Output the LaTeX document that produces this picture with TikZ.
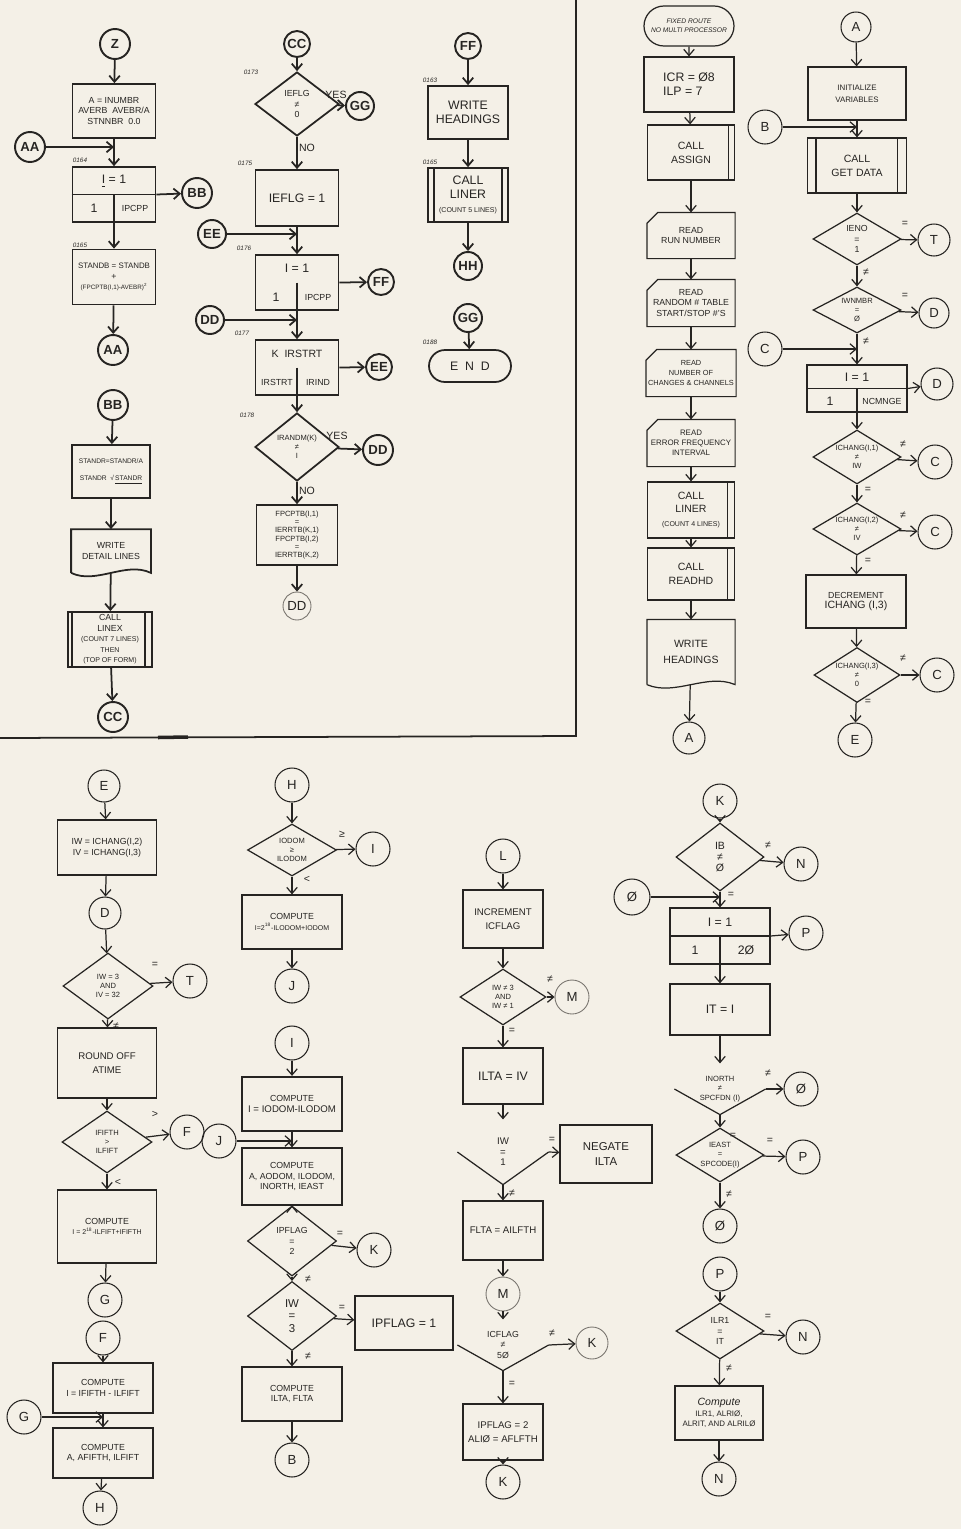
\documentclass[tikz,border=0pt]{standalone}
\usepackage{fontspec}
\setmainfont{Liberation Sans}
\usetikzlibrary{positioning,arrows.meta,shapes.geometric,shapes.misc}

\definecolor{paper}{RGB}{244,240,231}
\definecolor{ink}{RGB}{38,36,34}
\definecolor{faded}{RGB}{120,116,110}

\newcommand\fsA{\fontsize{5}{6}\selectfont}
\newcommand\fsB{\fontsize{4}{4.8}\selectfont}
\newcommand\fsC{\fontsize{7.5}{8}\selectfont}
\newcommand\fsD{\fontsize{5}{6}\selectfont}
\newcommand\fsS{\fontsize{4.3}{5.2}\selectfont}
\newcommand\fsE{\fontsize{7}{8}\selectfont}
\newcommand\fsL{\fontsize{6}{6}\selectfont}
\newcommand\fsN{\fontsize{3.6}{4}\selectfont\itshape}

\begin{document}
\begin{tikzpicture}[
    x=0.02cm, y=-0.02cm, line width=0.7pt,
    line/.style={draw=ink},
    arrow/.style={-{Straight Barb[length=3.5pt,width=6pt]}, draw=ink},
    block/.style 2 args={rectangle, draw=ink, text=ink, minimum width=#1*0.02cm, minimum height=#2*0.02cm, inner sep=0pt, align=center, font=\fsA},
    card/.style 2 args={block={#1}{#2}, draw=none},
    doc/.style 2 args={block={#1}{#2}, draw=none},
    terminal/.style 2 args={rounded rectangle, draw=ink, text=ink, minimum width=#1*0.02cm, minimum height=#2*0.02cm, inner sep=0pt, align=center, font=\fsA},
    decision/.style 2 args={diamond, draw=ink, text=ink, minimum width=#1*0.02cm, minimum height=#2*0.02cm, inner sep=-6pt, align=center, font=\fsD},
    open decision/.style 2 args={decision={#1}{#2}, draw=none},
    conn/.style={circle, draw=ink, line width=1.1pt, text=ink, minimum size=#1*0.04cm, inner sep=0pt, font=\fsC\bfseries},
    conn2/.style={circle, draw=ink, line width=0.6pt, text=ink, minimum size=#1*0.04cm, inner sep=0pt, font=\fsC},
    pconn/.style={circle, draw=faded, line width=0.5pt, text=ink, minimum size=#1*0.04cm, inner sep=0pt, font=\fsC},
    lbl/.style={font=\fsL, text=ink, inner sep=0pt},
    num/.style={font=\fsN, text=ink, inner sep=0pt},
    txt/.style={font=\fsA, text=ink, inner sep=0pt}
]
\fill[paper] (0,0) rectangle (961,1529);
\useasboundingbox (0,0) rectangle (961,1529);

% ---------------- upper left panel ----------------
\begin{scope}[line width=1pt]
\draw[line] (0,738) -- (576,736) -- (576,0);
\draw[line, line width=2pt] (158,737.5) -- (188,737);

% Z column
\node[conn=15] (Z) at (115,44) {Z};
\node[block={83}{54}] (zset) at (114,111) {A = INUMBR\\AVERB\ \ AVEBR/A\\STNNBR\ \ 0.0};
\node[conn=15] (AAin) at (30,147) {AA};
\coordinate (zjoin) at (114,147);
\node[num] (n164) at (80,160) {0164};
\node[block={83}{55}] (zloop) at (114,194.5) {};
\node[txt, font=\fsE] (zloopi) at (114,181) {\underline{I} = 1};
\node[txt, font=\fsE] (zloopa) at (94,208) {1};
\node[txt] (zloopb) at (135,208) {IPCPP};
\node[conn=15] (BBout) at (197,193) {BB};
\node[num] (n165) at (80,245) {0165};
\node[block={83}{55}] (zsum) at (114,277) {\fontsize{4.5}{6}\selectfont STANDB = STANDB\\+\\\fontsize{3.6}{5}\selectfont (FPCPTB(I,1)-AVEBR)\textsuperscript{2}};
\node[conn=15] (AAout) at (113,350) {AA};

% BB column
\node[conn=15] (BBin) at (113,405) {BB};
\node[block={78}{53}, font=\fontsize{3.8}{5}\selectfont] (bbstd) at (111,471.5) {STANDR=STANDR/A\\[5pt]STANDR\ \ √\,\underline{STANDR}};
\node[doc={78}{42}] (bbdoc) at (111,551) {WRITE\\DETAIL LINES};
\node[block={84}{55}] (bbcall) at (110,639.5) {CALL\\LINEX\\{\fsB (COUNT 7 LINES)}\\{\fsB THEN}\\{\fsB (TOP OF FORM)}};
\node[conn=15] (CCout) at (113,717) {CC};

% CC column
\node[conn=13] (CCin) at (297,44) {CC};
\node[num] (n173) at (251,72) {0173};
\node[decision={84}{64}] (cflg) at (297,104) {IEFLG\\≠\\0};
\node[lbl] (cyes1) at (336,95) {YES};
\node[conn=14] (GGout) at (360,106) {GG};
\node[lbl] (cno1) at (307,148) {NO};
\node[num] (n175) at (245,163) {0175};
\node[block={83}{56}, font=\fsE] (cset) at (297,198) {IEFLG = 1};
\node[conn=14] (EEin) at (212,234) {EE};
\coordinate (cjoin1) at (297,234);
\node[num] (n176) at (244,248) {0176};
\node[block={83}{55}] (cloop) at (297,282.5) {};
\node[txt, font=\fsE] (cloopi) at (297,268) {I = 1};
\node[txt, font=\fsE] (cloopa) at (276,297) {1};
\node[txt] (cloopb) at (318,297) {IPCPP};
\node[conn=13] (FFout) at (381,282) {FF};
\node[conn=14] (DDin) at (210,320) {DD};
\coordinate (cjoin2) at (297,320);
\node[num] (n177) at (242,333) {0177};
\node[block={83}{55}] (cirst) at (297,367.5) {};
\node[txt, font=\fontsize{6}{7}\selectfont] (cirsti) at (297,354) {K\ \ IRSTRT};
\node[txt] (cirsta) at (277,382) {IRSTRT};
\node[txt] (cirstb) at (318,382) {IRIND};
\node[conn=13] (EEout) at (379,367) {EE};
\node[num] (n178) at (247,415) {0178};
\node[decision={84}{68}, font=\fsS] (crnd) at (297,447) {IRANDM(K)\\≠\\I};
\node[lbl] (cyes2) at (337,436) {YES};
\node[conn=15] (DDout) at (378,450) {DD};
\node[lbl] (cno2) at (307,491) {NO};
\node[block={81}{60}, font=\fontsize{4.3}{4.6}\selectfont] (cfpc) at (297,535) {FPCPTB(I,1)\\=\\IERRTB(K,1)\\FPCPTB(I,2)\\=\\IERRTB(K,2)};
\node[pconn=14] (DDend) at (297,606) {DD};

% FF column
\node[conn=13] (FFin) at (468,46) {FF};
\node[num] (n163) at (430,80) {0163};
\node[block={80}{53}, font=\fsE] (fhead) at (468,112.5) {WRITE\\HEADINGS};
\node[num] (n165b) at (430,162) {0165};
\node[block={80}{54}, font=\fsE] (fliner) at (468,195) {CALL\\LINER\\{\fsB (COUNT 5 LINES)}};
\node[conn=14] (HHout) at (468,266) {HH};
\node[conn=14] (GGin) at (468,318) {GG};
\node[num] (n188) at (430,342) {0188};
\node[terminal={82}{32}, font=\fsE] (fend) at (470,366) {E\ \ N\ \ D};

\foreach \n in {zloop}
  \draw[line] (\n.west) -- (\n.east) (\n.center) -- (\n.south);
\foreach \n in {cloop,cirst}
  \draw[line] (\n.center) -- (\n.south);
\foreach \n/\d in {bbcall/5, fliner/7}
  \draw[line] ([xshift=\d*0.02cm]\n.north west) -- ([xshift=\d*0.02cm]\n.south west);
\foreach \n/\d in {bbcall/8, fliner/7}
  \draw[line] ([xshift=-\d*0.02cm]\n.north east) -- ([xshift=-\d*0.02cm]\n.south east);
\draw[line] (bbdoc.south west) -- (bbdoc.north west) -- (bbdoc.north east) -- (bbdoc.south east)
  .. controls +(-25,-12) and +(25,12) .. (bbdoc.south west);

\draw[arrow] (Z) -- (zset);
\draw[arrow] (zset) -- (zloop);
\draw[arrow] (AAin) -- (zjoin);
\draw[arrow] (zloop.east) -- (BBout);
\draw[arrow] (zloop) -- (zsum);
\draw[arrow] (zsum) -- (AAout);
\draw[arrow] (BBin) -- (bbstd);
\draw[arrow] (bbstd) -- (bbdoc);
\draw[arrow] (bbdoc) -- (bbcall);
\draw[arrow] (bbcall) -- (CCout);
\draw[arrow] (CCin) -- (cflg);
\draw[arrow] (cflg) -- (GGout);
\draw[arrow] (cflg) -- (cset);
\draw[arrow] (EEin) -- (cjoin1);
\draw[arrow] (cset) -- (cloop);
\draw[arrow] (cloop.east) -- (FFout);
\draw[arrow] (DDin) -- (cjoin2);
\draw[arrow] (cloop) -- (cirst);
\draw[arrow] (cirst.east) -- (EEout);
\draw[arrow] (cirst) -- (crnd);
\draw[arrow] (crnd) -- (DDout);
\draw[arrow] (crnd) -- (cfpc);
\draw[arrow] (cfpc) -- (DDend);
\draw[arrow] (FFin) -- (fhead);
\draw[arrow] (fhead) -- (fliner);
\draw[arrow] (fliner) -- (HHout);
\draw[arrow] (GGin) -- (fend);
\end{scope}

% ---------------- fixed route column ----------------
\node[terminal={90}{40}, font=\fontsize{3.8}{5}\selectfont\itshape] (fr) at (689,26) {FIXED ROUTE\\NO MULTI PROCESSOR};
\node[block={90}{55}, font=\fsE, align=left] (ficr) at (689,84.5) {ICR = Ø8\\ILP = 7};
\node[block={87}{55}, font=\fontsize{6}{8}\selectfont] (fasg) at (691,152.5) {CALL\\ASSIGN};
\node[card={87}{45}] (frd1) at (691,235.5) {READ\\RUN NUMBER};
\node[card={87}{46}] (frd2) at (691,303) {READ\\RANDOM \# TABLE\\START/STOP \#'S};
\node[card={89}{46}, font=\fontsize{4.2}{5.5}\selectfont] (frd3) at (691,373) {READ\\NUMBER OF\\CHANGES \& CHANNELS};
\node[card={87}{46}, font=\fontsize{4.5}{5.8}\selectfont] (frd4) at (691,443) {READ\\ERROR FREQUENCY\\INTERVAL};
\node[block={87}{56}, font=\fontsize{6}{7.5}\selectfont] (fln) at (691,510) {CALL\\LINER\\{\fsB (COUNT 4 LINES)}};
\node[block={87}{52}, font=\fontsize{6}{8}\selectfont] (frh) at (691,574) {CALL\\READHD};
\node[doc={87}{64}, font=\fontsize{6}{9}\selectfont] (fwh) at (691,652) {WRITE\\HEADINGS};
\node[conn2=16] (Aout) at (689,738) {A};

\foreach \n/\d in {fasg/7, fln/8, frh/8}
  \draw[line] ([xshift=-\d*0.02cm]\n.north east) -- ([xshift=-\d*0.02cm]\n.south east);
\foreach \n in {frd1,frd2,frd3,frd4}
  \draw[line] ([xshift=0.22cm]\n.north west) -- (\n.north east) -- (\n.south east) -- (\n.south west) -- ([yshift=-0.22cm]\n.north west) -- cycle;
\draw[line] (fwh.south west) -- (fwh.north west) -- (fwh.north east) -- (fwh.south east)
  .. controls +(-28,-12) and +(28,12) .. (fwh.south west);

\draw[arrow] (fr) -- (ficr);
\draw[arrow] (ficr) -- (fasg);
\draw[arrow] (fasg) -- (frd1);
\draw[arrow] (frd1) -- (frd2);
\draw[arrow] (frd2) -- (frd3);
\draw[arrow] (frd3) -- (frd4);
\draw[arrow] (frd4) -- (fln);
\draw[arrow] (fln) -- (frh);
\draw[arrow] (frh) -- (fwh);
\draw[arrow] (fwh) -- (Aout);

% ---------------- A column ----------------
\node[conn2=15] (Ain) at (856,27) {A};
\node[block={98}{53}, font=\fontsize{4.5}{7}\selectfont] (ainit) at (857,93.5) {INITIALIZE\\VARIABLES};
\node[conn2=17] (Bin) at (765,127) {B};
\coordinate (ajoin1) at (857,127);
\node[block={99}{55}, font=\fontsize{6}{8}\selectfont] (agd) at (857,165.5) {CALL\\GET DATA};
\node[decision={88}{52}] (aeno) at (857,239) {IENO\\=\\1};
\node[lbl] (alb1) at (905,224) {=};
\node[conn2=16] (Tout) at (934,240) {T};
\node[lbl] (alb2) at (866,272) {≠};
\node[decision={88}{46}, font=\fsS] (anum) at (857,310) {IWNMBR\\=\\Ø};
\node[lbl] (alb3) at (905,296) {=};
\node[conn2=15] (Dout) at (934,313) {D};
\node[conn2=17] (Cin) at (765,349) {C};
\coordinate (ajoin2) at (857,349);
\node[lbl] (alb4) at (866,341) {≠};
\node[block={100}{47}] (aloop) at (857,388.5) {};
\node[txt, font=\fsE] (aloopi) at (857,377) {I = 1};
\node[txt, font=\fsE] (aloopa) at (830,401) {1};
\node[txt] (aloopb) at (882,401) {NCMNGE};
\node[conn2=16] (Dout2) at (937,384) {D};
\node[decision={88}{54}, font=\fsS] (aiw) at (857,457) {ICHANG(I,1)\\≠\\IW};
\node[lbl] (alb5) at (903,444) {≠};
\node[conn2=17] (Cout1) at (935,462) {C};
\node[lbl] (alb6) at (868,490) {=};
\node[decision={88}{52}, font=\fsS] (aiv) at (857,529) {ICHANG(I,2)\\≠\\IV};
\node[lbl] (alb7) at (903,515) {≠};
\node[conn2=17] (Cout2) at (935,532) {C};
\node[lbl] (alb8) at (868,561) {=};
\node[block={100}{53}] (adec) at (856,601.5) {DECREMENT\\{\fontsize{6}{7}\selectfont ICHANG (I,3)}};
\node[decision={86}{55}, font=\fsS] (azero) at (857,675) {ICHANG(I,3)\\≠\\0};
\node[lbl] (alb9) at (903,658) {≠};
\node[conn2=17] (Cout3) at (937,675) {C};
\node[lbl] (alb10) at (868,702) {=};
\node[conn2=17] (Eout) at (855,740) {E};

\foreach \n/\d in {agd/9}
  \draw[line] ([xshift=\d*0.02cm]\n.north west) -- ([xshift=\d*0.02cm]\n.south west);
\foreach \n/\d in {agd/10}
  \draw[line] ([xshift=-\d*0.02cm]\n.north east) -- ([xshift=-\d*0.02cm]\n.south east);
\draw[line] (aloop.west) -- (aloop.east) (aloop.center) -- (aloop.south);

\draw[arrow] (Ain) -- (ainit);
\draw[arrow] (ainit) -- (agd);
\draw[arrow] (Bin) -- (ajoin1);
\draw[arrow] (agd) -- (aeno);
\draw[arrow] (aeno) -- (Tout);
\draw[arrow] (aeno) -- (anum);
\draw[arrow] (anum) -- (Dout);
\draw[arrow] (anum) -- (aloop);
\draw[arrow] (Cin) -- (ajoin2);
\draw[arrow] (aloop.east) -- (Dout2);
\draw[arrow] (aloop) -- (aiw);
\draw[arrow] (aiw) -- (Cout1);
\draw[arrow] (aiw) -- (aiv);
\draw[arrow] (aiv) -- (Cout2);
\draw[arrow] (aiv) -- (adec);
\draw[arrow] (adec) -- (azero);
\draw[arrow] (azero) -- (Cout3);
\draw[arrow] (azero) -- (Eout);

% ---------------- E column ----------------
\node[conn2=16] (Ein) at (104,786) {E};
\node[block={99}{55}] (eset) at (107,847.5) {IW = ICHANG(I,2)\\IV = ICHANG(I,3)};
\node[conn2=16] (Din) at (105,913) {D};
\node[decision={90}{66}, font=\fsS] (ecmp) at (108,986) {IW = 3\\AND\\IV = 32};
\node[lbl] (elb1) at (155,965) {=};
\node[conn2=17] (Tout2) at (190,981) {T};
\node[lbl] (elb2) at (116,1026) {≠};
\node[block={99}{70}, font=\fontsize{5.5}{8}\selectfont] (eround) at (107,1063) {ROUND OFF\\ATIME};
\node[decision={90}{62}, font=\fsS] (efifth) at (107,1142) {IFIFTH\\>\\ILFIFT};
\node[lbl] (elb3) at (155,1114) {>};
\node[conn2=17] (Fout) at (187,1132) {F};
\node[lbl] (elb4) at (118,1182) {<};
\node[block={99}{73}] (ecomp) at (107,1226.5) {COMPUTE\\{\fsB I = 2\textsuperscript{18}-ILFIFT+IFIFTH}};
\node[conn2=17] (Gout) at (105,1300) {G};
\node[conn2=17] (Fin) at (103,1338) {F};
\node[block={100}{50}] (ecomp2) at (103,1388) {COMPUTE\\I = IFIFTH - ILFIFT};
\node[conn2=17] (Gin) at (24,1417) {G};
\coordinate (ejoin) at (103,1417);
\node[block={100}{50}] (ecomp3) at (103,1453) {COMPUTE\\A, AFIFTH, ILFIFT};
\node[conn2=17] (Hout) at (100,1508) {H};

\draw[arrow] (Ein) -- (eset);
\draw[arrow] (eset) -- (Din);
\draw[arrow] (Din) -- (ecmp);
\draw[arrow] (ecmp) -- (Tout2);
\draw[arrow] (ecmp) -- (eround);
\draw[arrow] (eround) -- (efifth);
\draw[arrow] (efifth) -- (Fout);
\draw[arrow] (efifth) -- (ecomp);
\draw[arrow] (ecomp) -- (Gout);
\draw[arrow] (Fin) -- (ecomp2);
\draw[arrow] (ecomp2) -- (ecomp3);
\draw[arrow] (Gin) -- (ejoin);
\draw[arrow] (ecomp3) -- (Hout);

% ---------------- H column ----------------
\node[conn2=17] (Hin) at (292,785) {H};
\node[decision={89}{52}, font=\fsS] (hodom) at (292,850) {IODOM\\≥\\ILODOM};
\node[lbl] (hlb1) at (342,834) {≥};
\node[conn2=17] (Iout) at (373,849) {I};
\node[lbl] (hlb2) at (307,879) {<};
\node[block={100}{54}] (hcomp1) at (292,922) {COMPUTE\\{\fsB I=2\textsuperscript{18}-ILODOM+IODOM}};
\node[conn2=17] (Jout) at (292,986) {J};
\node[conn2=17] (Iin) at (292,1043) {I};
\node[block={100}{54}, line width=1.3pt] (hcomp2) at (292,1104) {COMPUTE\\{\fontsize{5.5}{7}\selectfont I = IODOM-ILODOM}};
\node[conn2=17] (Jin) at (219,1141) {J};
\coordinate (hjoin) at (292,1141);
\node[block={100}{57}] (hcomp3) at (292,1176.5) {COMPUTE\\A, AODOM, ILODOM,\\INORTH, IEAST};
\node[decision={89}{70}] (hflag) at (292,1241) {IPFLAG\\=\\2};
\node[lbl] (hlb3) at (340,1234) {=};
\node[conn2=17] (Kout) at (374,1250) {K};
\node[lbl] (hlb4) at (308,1279) {≠};
\node[decision={89}{69}, font=\fontsize{6.5}{7}\selectfont] (hiw) at (292,1316) {IW\\=\\3};
\node[lbl] (hlb5) at (342,1308) {=};
\node[block={98}{54}, font=\fsE] (hpf) at (404,1323) {IPFLAG = 1};
\node[lbl] (hlb6) at (308,1356) {≠};
\node[block={100}{54}] (hcomp4) at (292,1394) {COMPUTE\\ILTA, FLTA};
\node[conn2=17] (Bout) at (292,1460) {B};

\draw[arrow] (Hin) -- (hodom);
\draw[arrow] (hodom) -- (Iout);
\draw[arrow] (hodom) -- (hcomp1);
\draw[arrow] (hcomp1) -- (Jout);
\draw[arrow] (Iin) -- (hcomp2);
\draw[arrow] (hcomp2) -- (hcomp3);
\draw[arrow] (Jin) -- (hjoin);
\draw[arrow] (hcomp3) -- (hflag);
\draw[arrow] (hflag) -- (Kout);
\draw[arrow] (hflag) -- (hiw);
\draw[arrow] (hiw) -- (hpf);
\draw[arrow] (hiw) -- (hcomp4);
\draw[arrow] (hcomp4) -- (Bout);

% ---------------- L column ----------------
\node[conn2=17] (Lin) at (503,856) {L};
\node[block={80}{58}, font=\fontsize{5.5}{8}\selectfont] (linc) at (503,919) {INCREMENT\\ICFLAG};
\node[decision={86}{56}, font=\fsS] (liw) at (503,997) {IW ≠ 3\\AND\\IW ≠ 1};
\node[lbl] (llb1) at (550,979) {≠};
\node[pconn=17] (Mout) at (572,997) {M};
\node[lbl] (llb2) at (512,1031) {=};
\node[block={80}{56}, font=\fsE] (lilta) at (503,1076) {ILTA = IV};
\node[open decision={90}{64}, font=\fontsize{5.5}{6}\selectfont] (lone) at (503,1152) {IW\\=\\1};
\node[lbl] (llb3) at (552,1140) {=};
\node[block={92}{58}, font=\fontsize{6.5}{9}\selectfont] (lneg) at (606,1154) {NEGATE\\ILTA};
\node[lbl] (llb4) at (512,1193) {≠};
\node[block={80}{59}, font=\fontsize{5.5}{7}\selectfont] (lflta) at (503,1230.5) {FLTA = AILFTH};
\node[pconn=17] (Mret) at (503,1294) {M};
\node[open decision={90}{50}] (lcf) at (503,1345) {ICFLAG\\≠\\5Ø};
\node[lbl] (llb5) at (552,1333) {≠};
\node[pconn=16] (Kout2) at (592,1343) {K};
\node[lbl] (llb6) at (512,1384) {=};
\node[block={80}{56}, font=\fontsize{5.5}{8}\selectfont] (lpf) at (503,1432) {IPFLAG = 2\\ALIØ = AFLFTH};
\node[conn2=17] (Kout3) at (503,1482) {K};

\foreach \n in {lone,lcf}
  \draw[line] (\n.west) -- (\n.south) -- (\n.east);

\draw[arrow] (Lin) -- (linc);
\draw[arrow] (linc) -- (liw);
\draw[arrow] (liw) -- (Mout);
\draw[arrow] (liw) -- (lilta);
\draw[arrow] (lilta) -- (lone);
\draw[arrow] (lone.east) -- (lneg);
\draw[arrow] (lone) -- (lflta);
\draw[arrow] (lflta) -- (Mret);
\draw[arrow] (Mret) -- (lcf);
\draw[arrow] (lcf.east) -- (Kout2);
\draw[arrow] (lcf) -- (lpf);
\draw[arrow] (lpf) -- (Kout3);

% ---------------- K column ----------------
\node[conn2=17] (Kin) at (720,801) {K};
\node[decision={88}{68}, font=\fontsize{6}{6.5}\selectfont] (kib) at (720,857) {IB\\≠\\Ø};
\node[lbl] (klb1) at (768,845) {≠};
\node[conn2=17] (Nout1) at (801,864) {N};
\node[lbl] (klb2) at (731,895) {=};
\node[conn2=18] (Oin) at (632,897) {Ø};
\coordinate (kjoin) at (720,897);
\node[block={100}{56}] (kloop) at (720,936) {};
\node[txt, font=\fsE] (kloopi) at (720,922) {I = 1};
\node[txt, font=\fsE] (kloopa) at (695,950) {1};
\node[txt, font=\fsE] (kloopb) at (746,950) {2Ø};
\node[conn2=17] (Pout1) at (806,933) {P};
\node[block={100}{51}, font=\fsE] (kit) at (720,1009.5) {IT = I};
\node[open decision={90}{50}, font=\fsS] (knorth) at (720,1089) {INORTH\\≠\\SPCFDN (I)};
\node[lbl] (klb3) at (768,1073) {≠};
\node[conn2=17] (Oout1) at (801,1089) {Ø};
\node[lbl] (klb4) at (733,1136) {=};
\node[decision={88}{54}, font=\fsS] (keast) at (720,1155) {IEAST\\=\\SPCODE(I)};
\node[lbl] (klb5) at (770,1141) {=};
\node[conn2=17] (Pout2) at (803,1157) {P};
\node[lbl] (klb6) at (729,1194) {≠};
\node[conn2=17] (Oout2) at (720,1226) {Ø};
\node[conn2=17] (Pin) at (720,1274) {P};
\node[decision={88}{56}] (klr) at (720,1331) {ILR1\\=\\IT};
\node[lbl] (klb7) at (768,1317) {=};
\node[conn2=17] (Nout2) at (803,1337) {N};
\node[lbl] (klb8) at (729,1368) {≠};
\node[block={88}{54}, font=\fontsize{4.5}{6}\selectfont] (kcomp) at (719,1413) {{\fontsize{6}{7}\selectfont\itshape Compute}\\ILR1, ALRIØ,\\ALRIT, AND ALRILØ};
\node[conn2=17] (Nout3) at (719,1479) {N};

\draw[line] (kloop.west) -- (kloop.east) (kloop.center) -- (kloop.south);
\draw[line] (knorth.west) -- (knorth.south) -- (knorth.east);

\draw[arrow] (Kin) -- (kib);
\draw[arrow] (kib) -- (Nout1);
\draw[arrow] (kib) -- (kloop);
\draw[arrow] (Oin) -- (kjoin);
\draw[arrow] (kloop.east) -- (Pout1);
\draw[arrow] (kloop) -- (kit);
\draw[arrow] (kit) -- (knorth);
\draw[arrow] (knorth.east) -- (Oout1);
\draw[arrow] (knorth) -- (keast);
\draw[arrow] (keast) -- (Pout2);
\draw[arrow] (keast) -- (Oout2);
\draw[arrow] (Pin) -- (klr);
\draw[arrow] (klr) -- (Nout2);
\draw[arrow] (klr) -- (kcomp);
\draw[arrow] (kcomp) -- (Nout3);
\end{tikzpicture}
\end{document}
